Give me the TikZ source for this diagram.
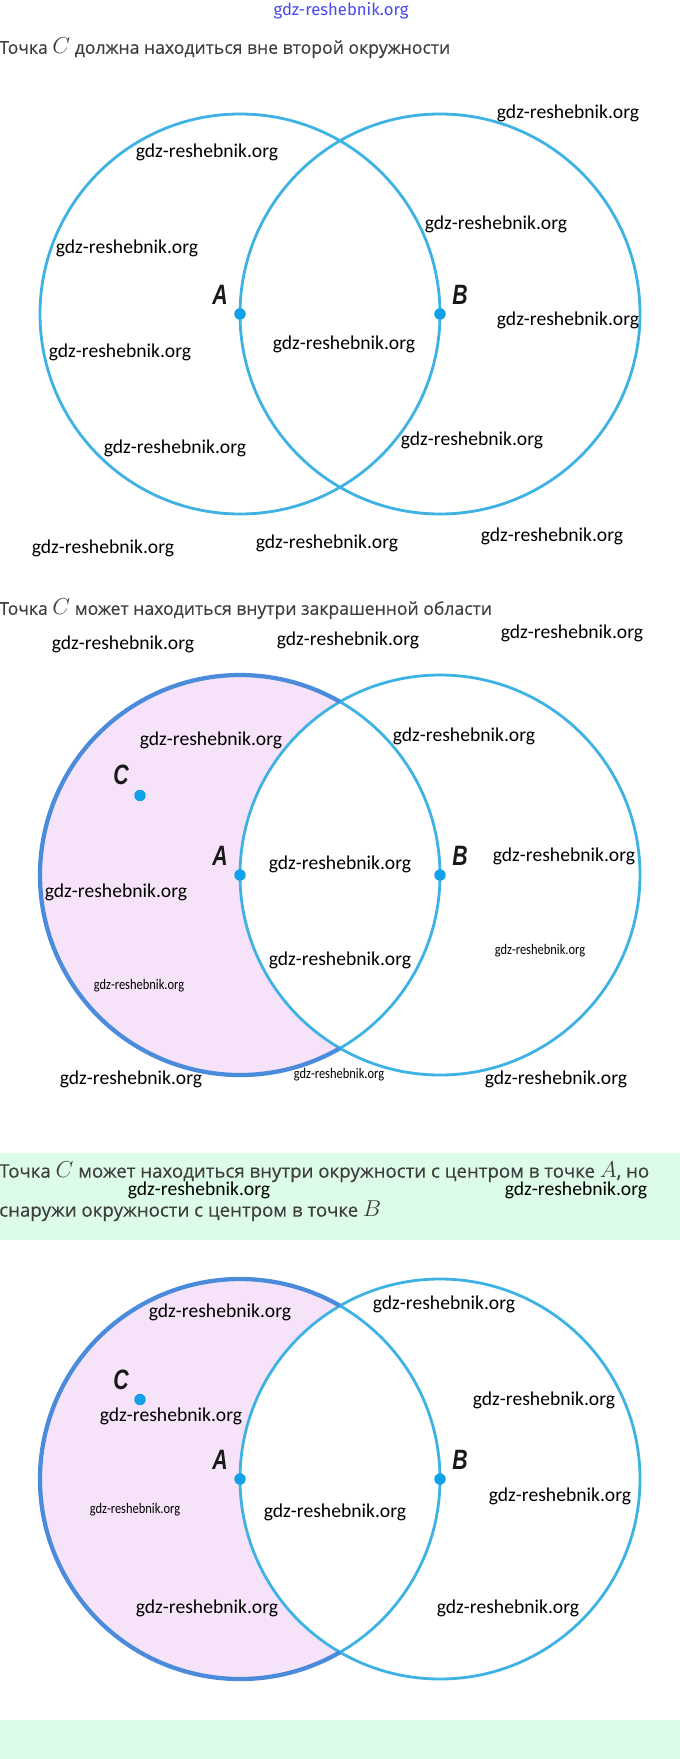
\documentclass[tikz,border=0pt]{standalone}
\usepackage{fontspec}
\setmainfont{Open Sans}[FakeBold=0.35]
\newfontfamily\wmfont{Carlito}
\newfontfamily\lblfont{Liberation Sans}
\newfontfamily\topfont{Fira Sans}
\definecolor{circblue}{HTML}{3DB2E3}
\definecolor{arcblue}{HTML}{4B8BDC}
\definecolor{dotblue}{HTML}{12A0E8}
\definecolor{pinkfill}{HTML}{F6E3F9}
\definecolor{greenband}{HTML}{DCFCE7}
\definecolor{titlegray}{HTML}{3E3E3E}
\definecolor{topblue}{HTML}{4848F0}
\newcommand{\mC}[1]{{\fontsize{16}{16}\selectfont$#1$}}
\newcommand{\mCb}[1]{{\fontsize{17}{17}\selectfont$#1$}}
\begin{document}
\begin{tikzpicture}[x=0.75pt,y=-0.75pt,
  circ/.style={draw=circblue, line width=2.1pt},
  thickarc/.style={draw=arcblue, line width=3.2pt},
  dotnode/.style={circle, fill=dotblue, inner sep=0pt, minimum size=8.6pt},
  ptlabel/.style={font=\lblfont\bfseries\itshape\fontsize{21}{21}\selectfont, inner sep=0pt, xscale=0.76, transform shape, text=black!90},
  titletext/.style={font=\fontsize{13.2}{15}\selectfont, text=titlegray, anchor=west, inner sep=0pt},
  bandtext/.style={font=\fontsize{14}{16}\selectfont, text=titlegray, anchor=west, inner sep=0pt},
  wm/.style={font=\wmfont\fontsize{14.7}{16}\selectfont, inner sep=0pt},
  wms/.style={font=\wmfont\fontsize{11}{12}\selectfont, inner sep=0pt, xscale=0.85, transform shape}
]
\useasboundingbox (0,0) rectangle (680,1759);
\fill[white] (0,0) rectangle (680,1759);

% green bands
\fill[greenband] (0,1153) rectangle (680,1240);
\fill[greenband] (0,1720) rectangle (680,1759);

% top watermark
\node[font=\topfont\fontsize{12.5}{14}\selectfont, text=topblue, inner sep=0pt] (top) at (341,11) {gdz-reshebnik.org};

% ---------- Diagram 1 ----------
\node[titletext] (t1) at (-1,48) {Точка \mC{C} должна находиться вне второй окружности};
\coordinate (A1) at (240,314);
\coordinate (B1) at (440,314);
\draw[circ] (A1) circle[radius=200];
\draw[circ] (B1) circle[radius=200];
\node[dotnode] (dA1) at (A1) {};
\node[dotnode] (dB1) at (B1) {};
\node[ptlabel] (lA1) at (220,295) {A};
\node[ptlabel] (lB1) at (460,295) {B};

\node[wm] (w1a) at (568,113) {gdz-reshebnik.org};
\node[wm] (w1b) at (207,152) {gdz-reshebnik.org};
\node[wm] (w1c) at (496,224) {gdz-reshebnik.org};
\node[wm] (w1d) at (127,248) {gdz-reshebnik.org};
\node[wm] (w1e) at (568,320) {gdz-reshebnik.org};
\node[wm] (w1f) at (344,344) {gdz-reshebnik.org};
\node[wm] (w1g) at (120,352) {gdz-reshebnik.org};
\node[wm] (w1h) at (175,448) {gdz-reshebnik.org};
\node[wm] (w1i) at (472,440) {gdz-reshebnik.org};
\node[wm] (w1j) at (103,548) {gdz-reshebnik.org};
\node[wm] (w1k) at (327,543) {gdz-reshebnik.org};
\node[wm] (w1l) at (552,536) {gdz-reshebnik.org};

% ---------- Diagram 2 ----------
\node[titletext] (t2) at (-1,609) {Точка \mC{C} может находиться внутри закрашенной области};
\coordinate (A2) at (240,875);
\coordinate (B2) at (440,875);
\fill[pinkfill] (A2) circle[radius=200];
\fill[white] (B2) circle[radius=200];
\draw[circ] (A2) circle[radius=200];
\draw[circ] (B2) circle[radius=200];
\draw[thickarc] (A2) ++(60:200) arc[start angle=60, end angle=300, radius=200];
\node[dotnode] (dA2) at (A2) {};
\node[dotnode] (dB2) at (B2) {};
\node[dotnode] (dC2) at (140,795.5) {};
\node[ptlabel] (lA2) at (220,856) {A};
\node[ptlabel] (lB2) at (460,856) {B};
\node[ptlabel] (lC2) at (121,775) {C};

\node[wm] (w2a) at (123,644) {gdz-reshebnik.org};
\node[wm] (w2b) at (348,640) {gdz-reshebnik.org};
\node[wm] (w2c) at (572,633) {gdz-reshebnik.org};
\node[wm] (w2d) at (211,740) {gdz-reshebnik.org};
\node[wm] (w2e) at (464,736) {gdz-reshebnik.org};
\node[wm] (w2f) at (340,864) {gdz-reshebnik.org};
\node[wm] (w2g) at (564,856) {gdz-reshebnik.org};
\node[wm] (w2h) at (116,892) {gdz-reshebnik.org};
\node[wm] (w2i) at (340,960) {gdz-reshebnik.org};
\node[wms] (w2j) at (540,951) {gdz-reshebnik.org};
\node[wms] (w2k) at (139,986) {gdz-reshebnik.org};
\node[wm] (w2l) at (131,1079) {gdz-reshebnik.org};
\node[wms] (w2m) at (339,1075) {gdz-reshebnik.org};
\node[wm] (w2n) at (556,1079) {gdz-reshebnik.org};

% ---------- Diagram 3 ----------
\node[bandtext] (t3a) at (-1,1172) {Точка \mCb{C} может находиться внутри окружности с центром в точке \mCb{A}, но};
\node[bandtext] (t3b) at (-1,1211) {снаружи окружности с центром в точке \mCb{B}};
\node[wm] (w3a) at (199,1190) {gdz-reshebnik.org};
\node[wm] (w3b) at (576,1190) {gdz-reshebnik.org};

\coordinate (A3) at (240,1479);
\coordinate (B3) at (440,1479);
\fill[pinkfill] (A3) circle[radius=200];
\fill[white] (B3) circle[radius=200];
\draw[circ] (A3) circle[radius=200];
\draw[circ] (B3) circle[radius=200];
\draw[thickarc] (A3) ++(60:200) arc[start angle=60, end angle=300, radius=200];
\node[dotnode] (dA3) at (A3) {};
\node[dotnode] (dB3) at (B3) {};
\node[dotnode] (dC3) at (140,1399.5) {};
\node[ptlabel] (lA3) at (220,1460) {A};
\node[ptlabel] (lB3) at (460,1460) {B};
\node[ptlabel] (lC3) at (121,1380) {C};

\node[wm] (w3c) at (220,1312) {gdz-reshebnik.org};
\node[wm] (w3d) at (444,1304) {gdz-reshebnik.org};
\node[wm] (w3e) at (544,1400) {gdz-reshebnik.org};
\node[wm] (w3f) at (171,1416) {gdz-reshebnik.org};
\node[wms] (w3g) at (135,1510) {gdz-reshebnik.org};
\node[wm] (w3h) at (335,1512) {gdz-reshebnik.org};
\node[wm] (w3i) at (560,1496) {gdz-reshebnik.org};
\node[wm] (w3j) at (207,1608) {gdz-reshebnik.org};
\node[wm] (w3k) at (508,1608) {gdz-reshebnik.org};
\end{tikzpicture}
\end{document}
